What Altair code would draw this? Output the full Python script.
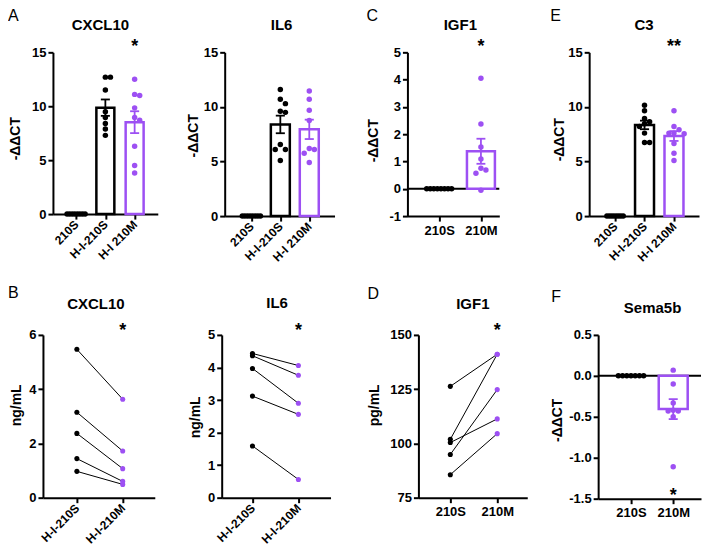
import altair as alt
import numpy as np
import pandas as pd

FONT = "Liberation Sans"
BLACK = "#000000"
PURPLE = "#9D50F3"

# ---------------- data ----------------
# A: qPCR CXCL10 (-ΔΔCT)
A1_TITLE = "CXCL10"
A1_CATS = ["210S", "H-I-210S", "H-I 210M"]
A1_210S = [0, 0, 0, 0, 0, 0, 0, 0]
A1_HI210S = [12.7, 12.7, 11.5, 9.5, 8.95, 8.4, 7.9, 7.3]
A1_HI210M = [12.5, 11.1, 11.0, 9.85, 8.95, 8.7, 6.3, 4.5, 3.8]

# A: qPCR IL6
A2_TITLE = "IL6"
A2_CATS = ["210S", "H-I-210S", "H-I 210M"]
A2_210S = [0, 0, 0, 0, 0, 0, 0, 0]
A2_HI210S = [11.6, 10.7, 10.3, 9.6, 9.5, 6.55, 6.1, 6.1, 5.1]
A2_HI210M = [11.45, 10.7, 9.7, 8.75, 6.2, 6.1, 5.75, 4.9]

# C: qPCR IGF1
C_TITLE = "IGF1"
C_CATS = ["210S", "210M"]
C_210S = [0, 0, 0, 0, 0, 0, 0, 0]
C_210M = [4.05, 2.37, 1.53, 1.09, 0.75, 0.69, 0.57, -0.05]

# E: qPCR C3
E_TITLE = "C3"
E_CATS = ["210S", "H-I-210S", "H-I 210M"]
E_210S = [0, 0, 0, 0, 0, 0, 0, 0]
E_HI210S = [10.15, 9.65, 8.95, 8.65, 8.45, 8.2, 7.6, 6.75, 6.75]
E_HI210M = [9.65, 8.2, 7.9, 7.6, 7.6, 7.55, 6.65, 5.75, 5.1]

# B: protein CXCL10 (ng/mL), paired
B1_TITLE = "CXCL10"
B1_CATS = ["H-I-210S", "H-I-210M"]
B1_210S = [5.47, 3.15, 2.37, 1.44, 0.97]
B1_210M = [3.63, 1.72, 1.07, 0.60, 0.49]

# B: protein IL6 (ng/mL), paired
B2_TITLE = "IL6"
B2_CATS = ["H-I-210S", "H-I-210M"]
B2_210S = [4.43, 4.36, 3.97, 3.12, 1.59]
B2_210M = [4.06, 3.76, 2.90, 2.56, 0.56]

# D: protein IGF1 (pg/mL), paired
D_TITLE = "IGF1"
D_CATS = ["210S", "210M"]
D_210S = [126.3, 101.9, 100.4, 94.9, 85.6]
D_210M = [141.1, 141.1, 111.3, 124.8, 104.5]

# F: qPCR Sema5b
F_TITLE = "Sema5b"
F_CATS = ["210S", "210M"]
F_210S = [0, 0, 0, 0, 0, 0, 0]
F_210M = [0.07, -0.10, -0.33, -0.42, -0.43, -0.43, -0.50, -1.11]

# ---------------- helpers ----------------
GRP_SCALE = alt.Scale(domain=["s", "m"], range=[BLACK, PURPLE])

AXIS = dict(
    domainColor=BLACK, domainWidth=2, tickColor=BLACK, tickWidth=2, tickSize=5,
    labelFont=FONT, labelFontWeight="bold", labelColor=BLACK,
    labelOverlap=False,
    grid=False, titleFont=FONT, titleFontWeight="bold", titleFontSize=14, titleColor=BLACK,
)


def swarm(vals, ppu, d=5.6, spread=10.0):
    n = len(vals)
    if max(vals) == min(vals):
        return list(np.linspace(-spread, spread, n))
    order = sorted(range(n), key=lambda i: -vals[i])
    cands = [0.0]
    for j in range(1, 8):
        cands += [j * d, -j * d]
    placed, offs = [], [0.0] * n
    for i in order:
        y = vals[i] * ppu
        chosen = 0.0
        for c in cands:
            if all((c - ox) ** 2 + (y - oy) ** 2 >= (0.95 * d) ** 2 for ox, oy in placed):
                chosen = c
                break
        offs[i] = chosen
        placed.append((chosen, y))
    return offs


def make_x(field, cats, xdom, angle):
    expr = "[" + ",".join("'%s'" % c for c in cats) + "][round(datum.value)]"
    if angle != 0:
        ax = alt.Axis(values=list(range(len(cats))), labelExpr=expr, labelAngle=angle,
                      labelAlign="right", labelBaseline="middle", labelPadding=3,
                      labelFontSize=12, **AXIS)
    else:
        ax = alt.Axis(values=list(range(len(cats))), labelExpr=expr, labelAngle=0,
                      labelPadding=3, labelFontSize=13, **AXIS)
    return alt.X(field, type="quantitative",
                 scale=alt.Scale(domain=xdom, nice=False, zero=False), axis=ax, title=None)


def make_y(field, ydom, yticks, fmt, ytitle, tx, ty):
    expr = "(datum.value < 0 ? '-' : '') + format(abs(datum.value), '%s')" % fmt
    ax = alt.Axis(values=yticks, labelExpr=expr, titleAngle=-90, titleX=tx, titleY=ty,
                  titleAlign="center", titleBaseline="middle", labelPadding=2,
                  labelFontSize=13, **AXIS)
    return alt.Y(field, type="quantitative",
                 scale=alt.Scale(domain=ydom, nice=False, zero=False), axis=ax, title=ytitle)


def text_at(txt, x, y, size, weight, align="left", baseline="top"):
    return alt.Chart(pd.DataFrame({"t": [txt]})).mark_text(
        font=FONT, fontSize=size, fontWeight=weight, align=align, baseline=baseline, color=BLACK
    ).encode(x=alt.value(x), y=alt.value(y), text="t:N")


def bar_panel(cats, series, grps, w, h, xdom, ydom, yticks, fmt, ytitle, tx, ty,
              title, tdx, title_y, letter, lxy, stars, star_y, barw, spread, angle,
              zero_line=False):
    ppu_y = h / (ydom[1] - ydom[0])
    step = w / (xdom[1] - xdom[0])
    rows = []
    for i, (vals, g) in enumerate(zip(series, grps)):
        offs = swarm(vals, ppu_y, spread=spread)
        for v, o in zip(vals, offs):
            rows.append(dict(idx=i, grp=g, v=v, xj=i + o / step))
    df = pd.DataFrame(rows)
    X = lambda f: make_x(f, cats, xdom, angle)
    Y = lambda f: make_y(f, ydom, yticks, fmt, ytitle, tx, ty)
    col = alt.Color("grp:N", scale=GRP_SCALE, legend=None)
    cap = 5.0 / step
    base = alt.Chart(df)
    stats = base.transform_aggregate(
        m="mean(v)", sd="stdev(v)", n="count()", groupby=["idx", "grp"]
    ).transform_calculate(
        se="datum.n > 1 ? datum.sd / sqrt(datum.n) : 0",
        lo="datum.m - datum.se",
        hi="datum.m + datum.se",
        xl="datum.idx - %f" % cap,
        xr="datum.idx + %f" % cap,
    )
    layers = []
    if zero_line:
        layers.append(alt.Chart(pd.DataFrame({"z": [0]})).mark_rule(
            strokeWidth=2, color=BLACK).encode(y=Y("z")))
    layers.append(stats.mark_bar(width=barw, fill="white", strokeWidth=2.5, orient="vertical").encode(
        x=X("idx"), y=Y("m"), stroke=alt.Stroke("grp:N", scale=GRP_SCALE, legend=None)))
    layers.append(stats.mark_rule(strokeWidth=1.8).encode(
        x=X("idx"), y=Y("lo"), y2=alt.Y2("hi"), color=col))
    layers.append(stats.transform_fold(["lo", "hi"], as_=["k", "yy"]).mark_rule(strokeWidth=1.8).encode(
        x=X("xl"), x2=alt.X2("xr"), y=Y("yy"), color=col))
    layers.append(base.mark_circle(size=30, opacity=1).encode(x=X("xj"), y=Y("v"), color=col))
    if stars:
        sdf = pd.DataFrame({"idx": [s[0] for s in stars], "t": [s[1] for s in stars]})
        layers.append(alt.Chart(sdf).mark_text(
            font=FONT, fontSize=18, fontWeight="bold", baseline="alphabetic", color=BLACK
        ).encode(x=X("idx"), y=alt.value(star_y), text="t:N"))
    layers.append(text_at(title, w / 2 + tdx, title_y, 15, "bold", align="center", baseline="alphabetic"))
    if letter:
        layers.append(text_at(letter, lxy[0], lxy[1], 16, "normal"))
    return alt.layer(*layers).properties(width=w, height=h)


def line_panel(cats, s_vals, m_vals, w, h, xdom, ydom, yticks, fmt, ytitle, tx, ty,
               title, tdx, title_y, letter, lxy, angle):
    rows = []
    for p, (a, b) in enumerate(zip(s_vals, m_vals)):
        rows.append(dict(pair=p, idx=0, grp="s", v=a))
        rows.append(dict(pair=p, idx=1, grp="m", v=b))
    df = pd.DataFrame(rows)
    X = lambda f: make_x(f, cats, xdom, angle)
    Y = lambda f: make_y(f, ydom, yticks, fmt, ytitle, tx, ty)
    col = alt.Color("grp:N", scale=GRP_SCALE, legend=None)
    base = alt.Chart(df)
    layers = [
        base.mark_line(color=BLACK, strokeWidth=1).encode(x=X("idx"), y=Y("v"), detail="pair:N"),
        base.mark_circle(size=26, opacity=1).encode(x=X("idx"), y=Y("v"), color=col),
        alt.Chart(pd.DataFrame({"idx": [1], "t": ["*"]})).mark_text(
            font=FONT, fontSize=18, fontWeight="bold", baseline="alphabetic", color=BLACK
        ).encode(x=X("idx"), y=alt.value(1), text="t:N"),
        text_at(title, w / 2 + tdx, title_y, 15, "bold", align="center", baseline="alphabetic"),
    ]
    if letter:
        layers.append(text_at(letter, lxy[0], lxy[1], 16, "normal"))
    return alt.layer(*layers).properties(width=w, height=h)


def spacer(w, h):
    return alt.Chart(pd.DataFrame({"a": [0]})).mark_point(opacity=0).encode(
        x=alt.X("a:Q", axis=None), y=alt.Y("a:Q", axis=None)).properties(width=w, height=h)


DCT = "-ΔΔCT"

pA1 = bar_panel(A1_CATS, [A1_210S, A1_HI210S, A1_HI210M], ["s", "s", "m"], 105, 162,
                [-0.62, 2.62], [0, 15], [0, 5, 10, 15], "d", DCT, -37, 86,
                A1_TITLE, -5, -22, "A", (-45, -44), [(2, "*")], 0, 18, 10, -45)
pA2 = bar_panel(A2_CATS, [A2_210S, A2_HI210S, A2_HI210M], ["s", "s", "m"], 110, 164,
                [-0.75, 2.7], [0, 15], [0, 5, 10, 15], "d", DCT, -31, 83,
                A2_TITLE, 2, -22, None, None, [], 0, 19, 10, -45)
pC = bar_panel(C_CATS, [C_210S, C_210M], ["s", "m"], 92, 164,
               [-0.64, 1.32], [-1, 5], [-1, 0, 1, 2, 3, 4, 5], "d", DCT, -34, 88,
               C_TITLE, 7, -22, "C", (-41, -44), [(1, "*")], 0, 28, 14, 0, zero_line=True)
pE = bar_panel(E_CATS, [E_210S, E_HI210S, E_HI210M], ["s", "s", "m"], 110, 164,
               [-0.71, 2.68], [0, 15], [0, 5, 10, 15], "d", DCT, -30, 87,
               E_TITLE, 0, -22, "E", (-39, -44), [(2, "**")], 0, 19, 9, -45)

pB1 = line_panel(B1_CATS, B1_210S, B1_210M, 112, 163, [-0.74, 1.7], [0, 6], [0, 2, 4, 6], "d",
                 "ng/mL", -26, 70, B1_TITLE, -3, -26, "B", (-35, -50), -45)
pB2 = line_panel(B2_CATS, B2_210S, B2_210M, 109, 163, [-0.67, 1.7], [0, 5], [0, 1, 2, 3, 4, 5], "d",
                 "ng/mL", -26, 82, B2_TITLE, 1, -27, None, None, -45)
pD = line_panel(D_CATS, D_210S, D_210M, 109, 163, [-0.68, 1.64], [75, 150], [75, 100, 125, 150], "d",
                "pg/mL", -44, 70, D_TITLE, 0, -26, "D", (-51, -49), 0)
pF = bar_panel(F_CATS, [F_210S, F_210M], ["s", "m"], 103, 164,
               [-0.66, 1.54], [-1.5, 0.5], [-1.5, -1.0, -0.5, 0.0, 0.5], ".1f", DCT, -41, 85,
               F_TITLE, 3, -22, "F", (-47, -46), [(1, "*")], 166, 29, 14, 0, zero_line=True)

row1 = alt.hconcat(spacer(10, 164), pA1, spacer(67, 164), pA2, spacer(73, 164), pC, spacer(90, 164), pE,
                   spacing=0, bounds="flush")
row2 = alt.hconcat(pB1, spacer(67, 163), pB2, spacer(88, 163), pD, spacer(71, 163), pF,
                   spacing=0, bounds="flush")

# nested concat groups report zero height under flush bounds, so the row gap is plot height + gap
chart = alt.vconcat(row1, row2, spacing=283, bounds="flush").properties(padding=0).configure_view(stroke=None)

chart.save("out.html", embed_options={"renderer": "svg", "actions": False})
